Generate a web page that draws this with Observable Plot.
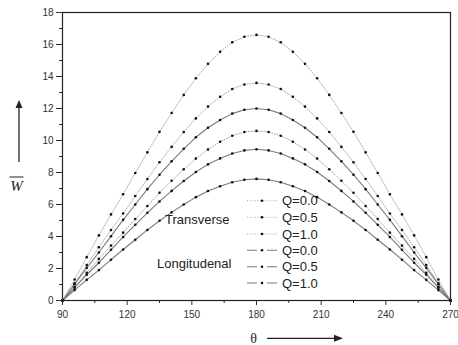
<!DOCTYPE html>
<html>
<head>
<meta charset="utf-8">
<script src="https://cdn.jsdelivr.net/npm/d3@7"></script>
<script src="https://cdn.jsdelivr.net/npm/@observablehq/plot@0.6"></script>
<style>
  html, body { margin: 0; padding: 0; background: #fff; }
  #chart svg { display: block; }
</style>
</head>
<body>
<div id="chart"></div>
<script>
// angle θ (degrees)
const theta = [90, 95.625, 101.25, 106.875, 112.5, 118.125, 123.75, 129.375, 135, 140.625, 146.25, 151.875, 157.5, 163.125, 168.75, 174.375, 180,
  185.625, 191.25, 196.875, 202.5, 208.125, 213.75, 219.375, 225, 230.625, 236.25, 241.875, 247.5, 253.125, 258.75, 264.375, 270];

// Transverse
const transQ00 = [0, 1.31, 2.71, 4.07, 5.38, 6.64, 7.97, 9.26, 10.54, 11.72, 12.85, 13.89, 14.79, 15.54, 16.14, 16.48, 16.6,
  16.48, 16.14, 15.54, 14.79, 13.89, 12.85, 11.72, 10.54, 9.26, 7.97, 6.64, 5.38, 4.07, 2.71, 1.31, 0];
const transQ05 = [0, 1.07, 2.22, 3.33, 4.41, 5.44, 6.53, 7.59, 8.64, 9.60, 10.53, 11.38, 12.12, 12.73, 13.22, 13.50, 13.6,
  13.50, 13.22, 12.73, 12.12, 11.38, 10.53, 9.60, 8.64, 7.59, 6.53, 5.44, 4.41, 3.33, 2.22, 1.07, 0];
const transQ10 = [0, 0.84, 1.73, 2.60, 3.43, 4.24, 5.09, 5.91, 6.73, 7.48, 8.20, 8.87, 9.44, 9.92, 10.30, 10.53, 10.6,
  10.53, 10.30, 9.92, 9.44, 8.87, 8.20, 7.48, 6.73, 5.91, 5.09, 4.24, 3.43, 2.60, 1.73, 0.84, 0];
// Longitudinal
const longQ00 = [0, 1.02, 2.04, 3.00, 4.02, 5.04, 6.00, 6.96, 7.86, 8.70, 9.48, 10.20, 10.80, 11.28, 11.68, 11.92, 12.0,
  11.92, 11.68, 11.28, 10.80, 10.20, 9.48, 8.70, 7.86, 6.96, 6.00, 5.04, 4.02, 3.00, 2.04, 1.02, 0];
const longQ05 = [0, 0.80, 1.61, 2.36, 3.17, 3.97, 4.73, 5.48, 6.19, 6.85, 7.47, 8.03, 8.51, 8.88, 9.19, 9.38, 9.45,
  9.38, 9.19, 8.88, 8.51, 8.03, 7.47, 6.85, 6.19, 5.48, 4.73, 3.97, 3.17, 2.36, 1.61, 0.80, 0];
const longQ10 = [0, 0.65, 1.29, 1.90, 2.55, 3.19, 3.80, 4.41, 4.98, 5.51, 6.00, 6.46, 6.84, 7.14, 7.39, 7.55, 7.6,
  7.55, 7.39, 7.14, 6.84, 6.46, 6.00, 5.51, 4.98, 4.41, 3.80, 3.19, 2.55, 1.90, 1.29, 0.65, 0];

const legendLabels = ["Q=0.0", "Q=0.5", "Q=1.0", "Q=0.0", "Q=0.5", "Q=1.0"];
const groupLabels = ["Transverse", "Longitudenal"];
const xTicks = [90, 120, 150, 180, 210, 240, 270];
const xMinor = [105, 135, 165, 195, 225, 255];
const yTicks = [0, 2, 4, 6, 8, 10, 12, 14, 16, 18];
const yMinor = [1, 3, 5, 7, 9, 11, 13, 15, 17];

const seriesList = [
  {name: "T0", values: transQ00, kind: "dotted"},
  {name: "T5", values: transQ05, kind: "dotted"},
  {name: "T10", values: transQ10, kind: "dotted"},
  {name: "L0", values: longQ00, kind: "solid"},
  {name: "L5", values: longQ05, kind: "solid"},
  {name: "L10", values: longQ10, kind: "solid"}
];
const styleFor = {
  dotted: {stroke: "#a8a8a8", strokeWidth: 1, strokeDasharray: "1,1.6"},
  solid: {stroke: "#7a7a7a", strokeWidth: 1.1, strokeDasharray: null}
};

const rows = seriesList.flatMap(s => s.values.map((v, i) => ({series: s.name, kind: s.kind, theta: theta[i], w: v})));

const lineMarks = seriesList.map(s => Plot.line(rows.filter(r => r.series === s.name), {
  x: "theta", y: "w", ...styleFor[s.kind]
}));

const chart = Plot.plot({
  width: 458,
  height: 345,
  marginLeft: 62,
  marginRight: 8,
  marginTop: 12,
  marginBottom: 45,
  x: {domain: [90, 270]},
  y: {domain: [0, 18]},
  style: {fontFamily: "'Liberation Sans', Arial, sans-serif", fontSize: "10px", color: "#333", background: "#fff"},
  marks: [
    ...lineMarks,
    Plot.dot(rows, {x: "theta", y: "w", r: 1.3, fill: "#111", stroke: "none"}),
    Plot.axisX({ticks: xTicks, tickSize: 5, tickPadding: 5, label: null, fontSize: 10}),
    Plot.axisX({ticks: xMinor, tickSize: 3, text: null, label: null}),
    Plot.axisY({ticks: yTicks, tickSize: 6, tickPadding: 3, label: null, fontSize: 10}),
    Plot.axisY({ticks: yMinor, tickSize: 3, text: null, label: null}),
    Plot.frame({stroke: "#222", strokeWidth: 1.2})
  ]
});

document.getElementById("chart").appendChild(chart);

// Decorations: legend, group labels, axis labels with arrows
const svg = d3.select(chart);
const g = svg.append("g")
  .style("font-family", "'Liberation Sans', Arial, sans-serif")
  .style("font-size", "13px")
  .attr("text-anchor", "start");

function label(x, y, txt) {
  return g.append("text").attr("x", x).attr("y", y)
    .attr("text-anchor", "start").style("font-size", "13px").attr("fill", "#222").text(txt);
}

// group labels
label(165, 224, groupLabels[0]);
label(157, 268, groupLabels[1]);

// legend
const legendY = [200.7, 217.3, 234, 250.3, 266.7, 283];
seriesList.forEach((s, i) => {
  const y = legendY[i];
  const st = styleFor[s.kind];
  const ln = g.append("line").attr("x1", 247).attr("x2", 277).attr("y1", y).attr("y2", y)
    .attr("stroke", st.stroke).attr("stroke-width", st.strokeWidth);
  if (st.strokeDasharray) ln.attr("stroke-dasharray", st.strokeDasharray);
  else ln.attr("stroke-dasharray", "10,5,0,5,10");
  g.append("circle").attr("cx", 262).attr("cy", y).attr("r", 1.3).attr("fill", "#111");
  label(282, y + 4.7, legendLabels[i]);
});

// y label: arrow up + W with overline
g.append("line").attr("x1", 19).attr("x2", 19).attr("y1", 162).attr("y2", 105).attr("stroke", "#222").attr("stroke-width", 1.3);
g.append("path").attr("d", "M19,100 L15.5,108 L22.5,108 Z").attr("fill", "#222");
g.append("text").attr("x", 16.5).attr("y", 191).attr("text-anchor", "middle")
  .style("font-family", "'Liberation Serif', 'DejaVu Serif', serif").style("font-style", "italic")
  .style("font-size", "15px").attr("fill", "#222").text("W");
g.append("line").attr("x1", 9.5).attr("x2", 23.5).attr("y1", 177).attr("y2", 177).attr("stroke", "#222").attr("stroke-width", 1);

// x label: θ + arrow right
g.append("text").attr("x", 253.5).attr("y", 343).attr("text-anchor", "middle")
  .style("font-family", "'Liberation Serif', 'DejaVu Serif', serif")
  .style("font-size", "14px").attr("fill", "#222").text("θ");
g.append("line").attr("x1", 267).attr("x2", 336).attr("y1", 338.3).attr("y2", 338.3).attr("stroke", "#222").attr("stroke-width", 1.3);
g.append("path").attr("d", "M343,338.3 L334,334.8 L334,341.8 Z").attr("fill", "#222");
</script>
</body>
</html>
